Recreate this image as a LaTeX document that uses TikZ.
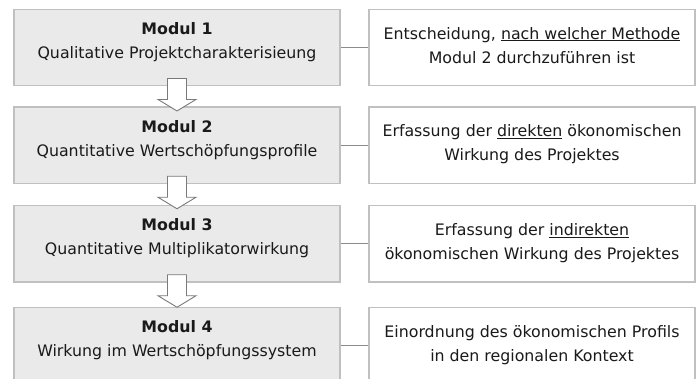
\documentclass[tikz,border=0pt]{standalone}
\usepackage{fontspec}
\setmainfont{DejaVu Sans}
\usetikzlibrary{calc}
\definecolor{boxborder}{HTML}{C0C0C0}
\definecolor{boxfill}{HTML}{EAEAEA}
\definecolor{linkgray}{HTML}{8C8C8C}
\definecolor{arrowgray}{HTML}{7A7A7A}
\definecolor{txtcol}{HTML}{1A1A1A}
\tikzset{
  modbox/.style={draw=boxborder, line width=1.6pt, fill=boxfill, minimum width=326pt, minimum height=76.3pt, inner sep=0pt},
  infobox/.style={draw=boxborder, line width=1.6pt, fill=white, minimum width=326pt, minimum height=76.3pt, inner sep=0pt},
  linetxt/.style={anchor=base, inner sep=0pt, text=txtcol, font=\fontsize{15.8}{24}\selectfont},
  boldtxt/.style={linetxt, font=\fontsize{15.8}{24}\selectfont\bfseries},
  link/.style={draw=linkgray, line width=1.2pt},
  barrow/.style={draw=arrowgray, line width=0.9pt, fill=white, line join=miter}
}
\begin{document}
\begin{tikzpicture}[x=1pt, y=-1pt]
\path[use as bounding box] (0,0) rectangle (700,378);
\clip (0,0) rectangle (700,378);
% left module boxes
\node[modbox] (l1) at (177,47.5) {};
\node[modbox] (l2) at (177,145.3) {};
\node[modbox] (l3) at (177,243.8) {};
\node[modbox] (l4) at (177,345.5) {};
% right boxes
\node[infobox] (r1) at (532,47.5) {};
\node[infobox] (r2) at (532,145.3) {};
\node[infobox] (r3) at (532,243.8) {};
\node[infobox] (r4) at (532,345.5) {};
% connectors
\foreach \i in {1,2,3,4}{
  \draw[link] (l\i.east) -- (r\i.west);
}
% block arrows
\foreach \a in {l1,l2,l3}{
  \draw[barrow] ($(\a.south)+(-9.5,-8)$) -- ++(0,21) -- ++(-9.5,0) -- ++(19,11.5) -- ++(19,-11.5) -- ++(-9.5,0) -- ++(0,-21) -- cycle;
}
% left texts
\node[boldtxt] (t1a) at ($(l1.north)+(0,26)$) {Modul 1};
\node[linetxt] (t1b) at ($(l1.north)+(0,50)$) {Qualitative Projektcharakterisieung};
\node[boldtxt] (t2a) at ($(l2.north)+(0,26)$) {Modul 2};
\node[linetxt] (t2b) at ($(l2.north)+(0,50)$) {Quantitative Wertschöpfungsprofile};
\node[boldtxt] (t3a) at ($(l3.north)+(0,26)$) {Modul 3};
\node[linetxt] (t3b) at ($(l3.north)+(0,50)$) {Quantitative Multiplikatorwirkung};
\node[boldtxt] (t4a) at ($(l4.north)+(0,26)$) {Modul 4};
\node[linetxt] (t4b) at ($(l4.north)+(0,50)$) {Wirkung im Wertschöpfungssystem};
% right texts
\node[linetxt] (s1a) at ($(r1.north)+(0,30.5)$) {Entscheidung, \underline{nach welcher Methode}};
\node[linetxt] (s1b) at ($(r1.north)+(0,54.5)$) {Modul 2 durchzuführen ist};
\node[linetxt] (s2a) at ($(r2.north)+(0,30.5)$) {Erfassung der \underline{direkten} ökonomischen};
\node[linetxt] (s2b) at ($(r2.north)+(0,54.5)$) {Wirkung des Projektes};
\node[linetxt] (s3a) at ($(r3.north)+(0,30.5)$) {Erfassung der \underline{indirekten}};
\node[linetxt] (s3b) at ($(r3.north)+(0,54.5)$) {ökonomischen Wirkung des Projektes};
\node[linetxt] (s4a) at ($(r4.north)+(0,30.5)$) {Einordnung des ökonomischen Profils};
\node[linetxt] (s4b) at ($(r4.north)+(0,54.5)$) {in den regionalen Kontext};
\end{tikzpicture}
\end{document}
